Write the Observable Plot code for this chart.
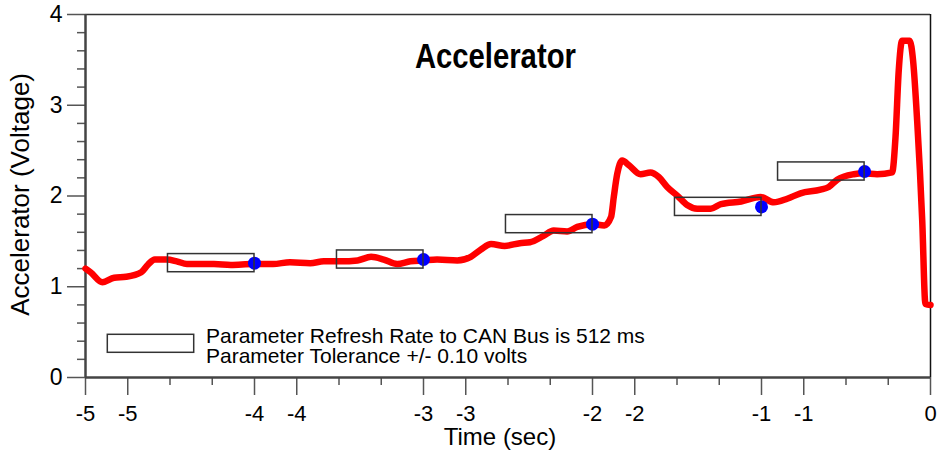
<!DOCTYPE html>
<html><head><meta charset="utf-8">
<script src="https://cdn.jsdelivr.net/npm/d3@7"></script>
<script src="https://cdn.jsdelivr.net/npm/@observablehq/plot@0.6"></script>
<style>body{margin:0;background:#fff;} svg{display:block}</style>
</head><body><div id="chart"></div>
<script>
// Accelerator trace (time in s, voltage in V)
const time = [-5.00,-4.97,-4.90,-4.83,-4.76,-4.67,-4.63,-4.59,-4.52,-4.46,-4.40,-4.24,-4.14,-4.01,-3.89,-3.79,-3.67,-3.59,-3.49,-3.39,-3.31,-3.235,-3.156,-3.077,-3.00,-2.92,-2.80,-2.72,-2.66,-2.60,-2.52,-2.43,-2.37,-2.29,-2.23,-2.15,-2.09,-2.00,-1.93,-1.89,-1.874,-1.854,-1.824,-1.785,-1.716,-1.657,-1.608,-1.558,-1.499,-1.44,-1.38,-1.30,-1.24,-1.12,-1.006,-0.927,-0.848,-0.769,-0.651,-0.602,-0.552,-0.454,-0.395,-0.316,-0.227,-0.207,-0.188,-0.168,-0.123,-0.103,-0.079,-0.049,-0.030,0.0];
const voltage = [1.20,1.16,1.05,1.10,1.11,1.16,1.245,1.30,1.30,1.28,1.25,1.25,1.24,1.25,1.25,1.27,1.26,1.28,1.28,1.29,1.33,1.30,1.25,1.28,1.29,1.30,1.29,1.33,1.41,1.47,1.45,1.48,1.49,1.56,1.62,1.61,1.66,1.69,1.675,1.77,1.99,2.24,2.39,2.34,2.24,2.26,2.21,2.10,2.005,1.90,1.86,1.86,1.91,1.94,1.99,1.93,1.97,2.03,2.07,2.10,2.18,2.24,2.25,2.24,2.26,2.65,3.38,3.71,3.71,3.49,2.83,1.73,0.81,0.80];
// CAN bus samples
const sampleTime = [-4.0,-3.0,-2.0,-1.0,-0.39];
const sampleVoltage = [1.26,1.30,1.69,1.88,2.27];
const refreshRate = 0.512;   // s
const tolerance = 0.10;      // V
// axes
const xTickValues = [-5,-4.75,-4,-3.75,-3,-2.75,-2,-1.75,-1,-0.75,0];
const xTickLabels = ["-5","-5","-4","-4","-3","-3","-2","-2","-1","-1","0"];
const xMinorTicks = [-4.5,-4.25,-3.5,-3.25,-2.5,-2.25,-1.5,-1.25,-0.5,-0.25];
const yTickValues = [0,1,2,3,4];
const yMinorTicks = [0.2,0.4,0.6,0.8,1.2,1.4,1.6,1.8,2.2,2.4,2.6,2.8,3.2,3.4,3.6,3.8];
const titleText = "Accelerator";
const xLabel = "Time (sec)";
const yLabel = "Accelerator (Voltage)";
const legendLines = ["Parameter Refresh Rate to CAN Bus is 512 ms","Parameter Tolerance +/- 0.10 volts"];

const trace = time.map((t,i)=>({t, v: voltage[i]}));
const samples = sampleTime.map((t,i)=>({t, v: sampleVoltage[i]}));
const labelOf = new Map(xTickValues.map((v,i)=>[v, xTickLabels[i]]));

const W=940, H=455, mL=85, mR=10, mT=14, mB=78;
const font = "'Liberation Sans', Arial, sans-serif";
const chart = Plot.plot({
  width:W, height:H, marginLeft:mL, marginRight:mR, marginTop:mT, marginBottom:mB,
  style:{fontFamily:font, background:"#fff", color:"#000", overflow:"visible"},
  x:{domain:[-5,0]}, y:{domain:[0,4]},
  marks:[
    Plot.axisX({ticks:xTickValues, tickSize:18, tickPadding:10, tickFormat:d=>labelOf.get(d), fontSize:22, stroke:"#555", strokeWidth:1.5, label:null}),
    Plot.axisX({ticks:xMinorTicks, tickSize:8, tickFormat:()=>"", stroke:"#555", strokeWidth:1.5, label:null}),
    Plot.axisY({ticks:yTickValues, tickSize:18, tickPadding:5, tickFormat:d=>String(d), fontSize:23, stroke:"#555", strokeWidth:1.5, label:null}),
    Plot.axisY({ticks:yMinorTicks, tickSize:8, tickFormat:()=>"", stroke:"#555", strokeWidth:1.5, label:null}),
    Plot.ruleY([4], {stroke:"#333", strokeWidth:1.5}),
    Plot.ruleX([0], {stroke:"#111", strokeWidth:1.5}),
    Plot.ruleY([0], {stroke:"#444", strokeWidth:2.5}),
    Plot.ruleX([-5], {stroke:"#444", strokeWidth:2.5}),
    Plot.line(trace, {x:"t", y:"v", stroke:"#ff0000", strokeWidth:6.5, curve:"monotone-x"}),
    Plot.dot(samples, {x:"t", y:"v", r:6.5, fill:"#0000ff", stroke:"none"}),
    Plot.rect(samples, {x1:d=>d.t-refreshRate, x2:"t", y1:d=>d.v-tolerance, y2:d=>d.v+tolerance, fill:"none", stroke:"#333", strokeWidth:1.5})
  ]
});
document.getElementById("chart").appendChild(chart);
const svg = d3.select(chart);
svg.append("text").attr("x",495.4).attr("y",68.3).attr("text-anchor","middle")
  .attr("font-family",font).attr("font-weight","bold").attr("font-size",35)
  .attr("textLength",161).attr("lengthAdjust","spacingAndGlyphs").attr("fill","#000").text(titleText);
svg.append("text").attr("transform","translate(28.5,194.4) rotate(-90)").attr("text-anchor","middle")
  .attr("font-family",font).attr("font-size",26).attr("fill","#000").text(yLabel);
svg.append("text").attr("x",500).attr("y",445).attr("text-anchor","middle")
  .attr("font-family",font).attr("font-size",24).attr("fill","#000").text(xLabel);
svg.append("rect").attr("x",107.3).attr("y",334.3).attr("width",86.4).attr("height",18)
  .attr("fill","none").attr("stroke","#333").attr("stroke-width",1.5);
legendLines.forEach((s,i)=>{
  svg.append("text").attr("x",206).attr("y",342.7+i*20).attr("text-anchor","start").attr("font-family",font)
    .attr("font-size",21).attr("fill","#000").text(s);
});
</script></body></html>
